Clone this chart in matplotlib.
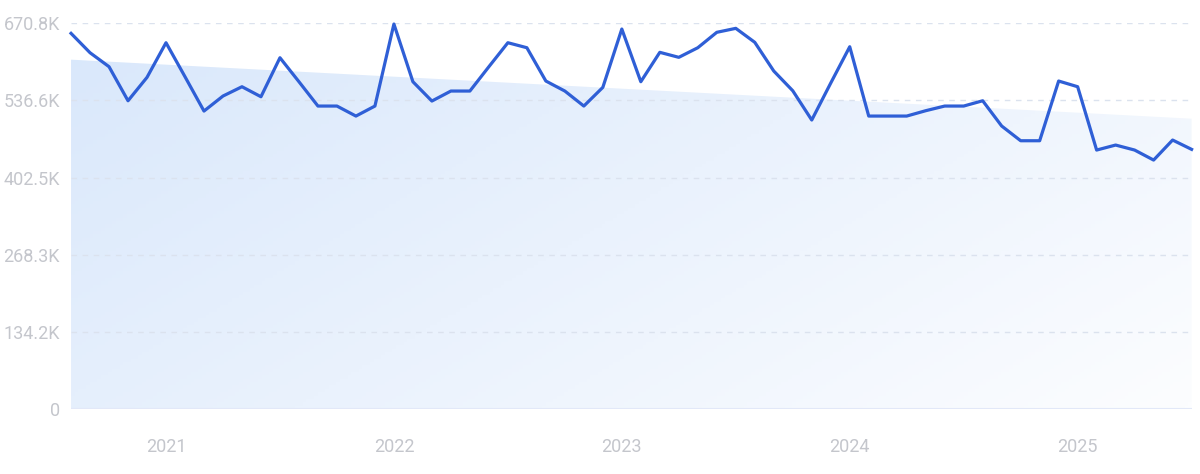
import numpy as np
import pandas as pd
import matplotlib
matplotlib.use("Agg")
import matplotlib.pyplot as plt
from matplotlib.colors import LinearSegmentedColormap

# monthly values, Aug 2020 .. Jul 2025 (thousands)
months = pd.date_range("2020-08-01", "2025-07-01", freq="MS")
values = [
    653.2, 619.5, 595.2, 536.0, 576.7, 636.9, 577.8, 518.1, 544.2, 560.4,
    543.0, 610.8, 569.1, 526.8, 526.8, 509.4, 526.8, 669.4, 569.1, 535.5,
    552.9, 552.9, 595.2, 636.9, 628.2, 570.3, 552.9, 526.8, 559.3, 660.7,
    569.1, 620.2, 611.5, 628.2, 655.0, 661.9, 637.6, 587.7, 553.4, 502.5,
    566.8, 629.9, 509.4, 509.4, 509.4, 518.7, 526.8, 526.8, 536.0, 492.1,
    466.5, 466.5, 570.3, 560.4, 450.3, 459.0, 450.3, 432.9, 467.7, 451.5,
]
y_ticks = [0, 134.2, 268.3, 402.5, 536.6, 670.8]
y_labels = ["0", "134.2K", "268.3K", "402.5K", "536.6K", "670.8K"]
x_labels = ["2021", "2022", "2023", "2024", "2025"]

line_color = "#2f5fd6"
text_color = "#c4c6cc"
grid_color = "#dbe2ee"

plt.rcParams["font.family"] = ["Roboto", "DejaVu Sans"]

fig = plt.figure(figsize=(12, 4.74), dpi=100)
ax = fig.add_axes([0.0592, 0.137, 0.9338, 0.814])

x = np.arange(len(values))
vals = np.array(values)

# linear trend drawn as a gradient-filled area
slope, intercept = np.polyfit(x, vals, 1)
trend = slope * x + intercept
poly = ax.fill_between(x, 0, trend, color="none", lw=0)
cmap = LinearSegmentedColormap.from_list("bg", ["#d8e7fb", "#fcfdff"])
gx, gy = np.meshgrid(np.linspace(0, 1, 300), np.linspace(0, 1, 120))
grad = (gx * 0.75 + gy * 0.45) / 1.2
img = ax.imshow(grad, cmap=cmap, extent=[0, len(x) - 1, 0, 700],
                origin="upper", aspect="auto", zorder=0)
img.set_clip_path(poly.get_paths()[0], transform=ax.transData)

for t in y_ticks[1:]:
    ax.axhline(t, color=grid_color, lw=1, ls=(0, (4, 4)), zorder=1)
ax.axhline(0, color="#e2e8f8", lw=1.5, zorder=1)

ax.plot(x, vals, color=line_color, lw=2.3, zorder=3, clip_on=False,
        solid_joinstyle="round")

ax.set_xlim(0, len(x) - 1)
ax.set_ylim(0, 670.8)
ax.set_yticks(y_ticks)
ax.set_yticklabels(y_labels)
jan_idx = [i for i, m in enumerate(months) if m.month == 1]
ax.set_xticks(jan_idx)
ax.set_xticklabels(x_labels)
ax.tick_params(axis="both", length=0, colors=text_color, labelsize=13)
ax.tick_params(axis="x", pad=21)
ax.tick_params(axis="y", pad=8)
for s in ax.spines.values():
    s.set_visible(False)

fig.savefig("out.png", dpi=100, facecolor="white")
